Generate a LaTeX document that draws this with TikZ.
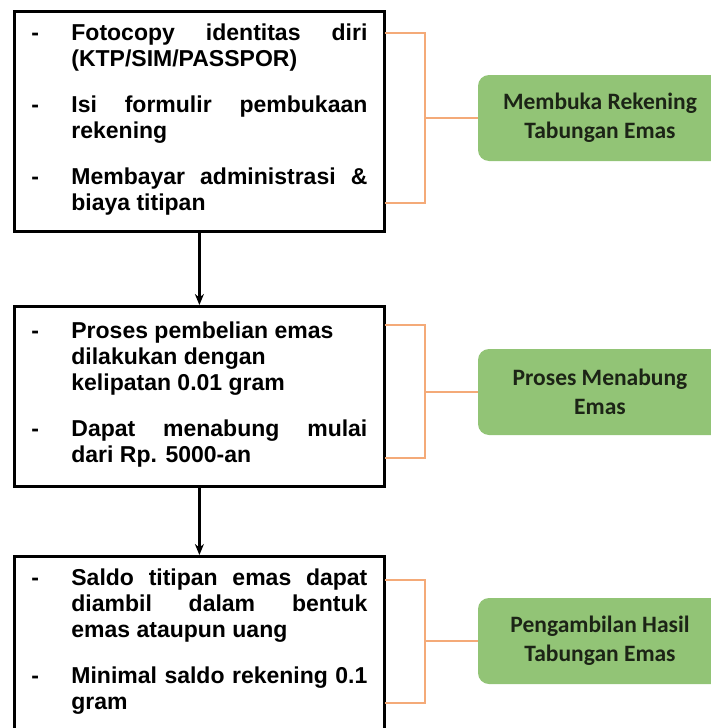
\documentclass[tikz,border=0pt]{standalone}
\usepackage{fontspec}
\setmainfont{Liberation Sans}
\newfontfamily\calibri{Carlito}
\usetikzlibrary{arrows.meta}

\definecolor{hijau}{RGB}{146,196,118}
\definecolor{jingga}{RGB}{244,170,120}
\definecolor{teksgelap}{RGB}{28,36,22}

% one "- text" entry with hanging indent, gap after it
\newcommand{\butir}[1]{\par\noindent\hangindent=40pt\hangafter=1%
  \makebox[40pt][l]{-}#1\par\vspace{20pt}}

\tikzset{
  langkah/.style={draw,line width=2.8pt,anchor=north west,text width=336pt,
    inner xsep=17pt,inner ysep=0pt,align=justify,
    execute at begin node={\vspace*{-14pt}},
    font=\bfseries\fontsize{23}{26}\selectfont},
  tahap/.style={fill=hijau,rounded corners=11pt,minimum width=244pt,
    minimum height=86pt,align=center,text=teksgelap,
    font=\calibri\bfseries\fontsize{23.5}{29}\selectfont},
  kurung/.style={draw=jingga,line width=2pt},
  panah/.style={-{Stealth[length=11pt,width=9pt]},line width=2.2pt}
}

\begin{document}
\begin{tikzpicture}[x=1pt,y=-1pt]
\useasboundingbox (0,0) rectangle (710,728);
% ---- left boxes ----
\node[langkah,minimum height=220pt] (langkah1) at (13,10) {%
  \butir{Fotocopy identitas diri\linebreak (KTP/SIM/PASSPOR)}
  \butir{Isi formulir pembukaan\linebreak rekening}
  \butir{Membayar administrasi \&\linebreak biaya titipan}};
\node[langkah,minimum height=180pt] (langkah2) at (13,305) {%
  \butir{Proses pembelian emas\newline dilakukan dengan\newline kelipatan 0.01 gram}
  \butir{Dapat menabung mulai\linebreak dari Rp. 5000-an}};
\node[langkah,minimum height=176pt] (langkah3) at (13,555) {%
  \butir{Saldo titipan emas dapat\linebreak diambil dalam bentuk\linebreak emas ataupun uang}
  \butir{Minimal saldo rekening 0.1\linebreak gram}};
% ---- green stages ----
\node[tahap] (tahap1) at (600,118) {Membuka Rekening\\Tabungan Emas};
\node[tahap] (tahap2) at (600,392) {Proses Menabung\\Emas};
\node[tahap] (tahap3) at (600,641) {Pengambilan Hasil\\Tabungan Emas};
% ---- arrows ----
\draw[panah] (langkah1.south) -- (langkah2.north);
\draw[panah] (langkah2.south) -- (langkah3.north);
% ---- orange brackets ----
\coordinate (k1a) at (385,33);
\coordinate (k1b) at (385,203);
\coordinate (k2a) at (385,325);
\coordinate (k2b) at (385,458);
\coordinate (k3a) at (385,580);
\coordinate (k3b) at (385,703);
\draw[kurung] (k1a) -- ++(40,0) |- (k1b);
\draw[kurung] (k2a) -- ++(40,0) |- (k2b);
\draw[kurung] (k3a) -- ++(40,0) |- (k3b);
\draw[kurung] (tahap1.west) -- ++(-53,0);
\draw[kurung] (tahap2.west) -- ++(-53,0);
\draw[kurung] (tahap3.west) -- ++(-53,0);
\end{tikzpicture}
\end{document}
